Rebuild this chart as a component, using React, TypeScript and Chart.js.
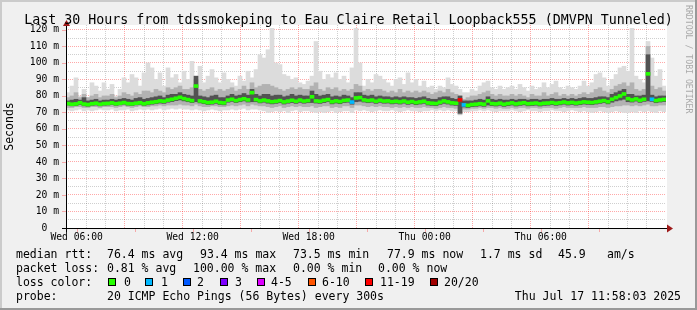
import React, { useEffect, useRef } from 'react';
import { Chart, registerables } from 'chart.js';

Chart.register(...registerables);

// ---------------- data (ms, one column = 12 minutes, starting Wed 05:58) ----------------
const median = [
  75.4, 75.0, 75.2, 75.9, 75.1, 74.8, 75.3, 75.6, 75.0, 75.4,
  75.5, 75.8, 75.3, 75.6, 76.0, 75.4, 75.2, 75.6, 75.9, 75.3,
  75.8, 76.2, 76.5, 77.0, 76.8, 77.5, 78.0, 78.6, 79.2, 78.4,
  77.8, 77.2, 86.0, 77.0, 76.5, 76.0, 76.2, 76.8, 76.0, 75.8,
  77.5, 78.0, 77.2, 77.8, 78.3, 77.6, 82.0, 77.8, 77.0, 77.5,
  77.0, 76.5, 76.8, 77.2, 76.4, 76.9, 77.4, 76.8, 77.5, 76.9,
  77.2, 79.5, 77.0, 76.8, 77.4, 77.8, 76.5, 77.0, 76.6, 77.3,
  77.5, 76.3, 78.8, 79.0, 77.6, 77.2, 77.5, 76.8, 77.4, 76.9,
  77.0, 76.5, 76.8, 76.4, 76.9, 76.2, 76.6, 76.0, 76.4, 76.8,
  75.8, 75.6, 75.4, 76.2, 77.0, 76.4, 75.8, 75.6, 77.6, 74.6,
  74.3, 74.8, 75.0, 75.3, 75.0, 77.0, 75.4, 75.2, 75.6, 75.0,
  75.4, 75.8, 75.2, 75.6, 75.9, 75.3, 75.5, 75.7, 75.2, 75.6,
  75.7, 76.0, 75.6, 75.9, 76.3, 75.8, 76.1, 75.7, 76.0, 76.4,
  76.2, 76.0, 76.4, 76.8, 77.2, 76.5, 78.0, 79.0, 80.0, 81.2,
  78.4, 77.6, 78.2, 77.4, 78.0, 93.4, 78.0, 77.2, 77.6, 77.9,
];

const lightHi = [
  82, 86, 91, 80, 84, 79, 88, 86, 83, 88,
  84, 87, 80, 84, 91, 88, 93, 91, 86, 94,
  100, 97, 90, 94, 86, 97, 91, 93, 88, 95,
  90, 101, 92, 98, 88, 92, 96, 91, 88, 94,
  90, 88, 86, 92, 89, 95, 91, 96, 105, 103,
  108, 121, 100, 99, 93, 92, 90, 91, 88, 87,
  89, 92, 113, 95, 90, 93, 91, 94, 90, 92,
  88, 97, 121, 100, 86, 90, 88, 93, 92, 90,
  88, 86, 90, 91, 87, 94, 88, 90, 86, 89,
  85, 86, 84, 86, 85, 91, 87, 86, 84, 82,
  82, 84, 83, 86, 88, 89, 85, 84, 86, 84,
  85, 86, 84, 87, 85, 83, 86, 84, 85, 88,
  85, 87, 89, 85, 84, 86, 85, 84, 86, 89,
  86, 88, 93, 94, 91, 86, 90, 93, 97, 98,
  95, 121, 92, 90, 88, 113, 103, 92, 96, 86,
];

const midHi = [
  79, 80, 82, 79, 81, 79, 80, 81, 79, 80,
  80, 81, 79, 80, 82, 81, 80, 82, 81, 83,
  83, 82, 84, 83, 82, 85, 84, 85, 86, 84,
  84, 85, 90, 84, 83, 84, 85, 83, 84, 83,
  84, 85, 83, 84, 86, 84, 88, 85, 86, 87,
  87, 86, 85, 84, 83, 84, 85, 84, 85, 84,
  84, 86, 88, 84, 83, 85, 84, 85, 83, 84,
  83, 84, 87, 86, 83, 84, 83, 84, 84, 83,
  82, 83, 82, 84, 82, 83, 82, 83, 82, 83,
  82, 81, 82, 83, 82, 84, 82, 81, 80, 78,
  79, 80, 80, 81, 82, 83, 81, 80, 81, 80,
  80, 81, 80, 81, 80, 79, 81, 80, 80, 82,
  80, 81, 82, 80, 81, 80, 81, 80, 81, 82,
  81, 82, 84, 85, 83, 82, 84, 86, 87, 88,
  86, 88, 84, 83, 84, 110, 86, 84, 85, 83,
];

const darkHi = [
  77, 77.5, 78, 77.5, 79, 77, 77.5, 78, 77, 77.5,
  77.5, 78, 77.5, 78, 78.5, 78, 77.5, 78.5, 79, 78,
  78.5, 79, 79.5, 80, 79, 80.5, 81, 81, 82, 81,
  80.5, 80, 92, 80, 79.5, 79, 80, 80.5, 79, 79,
  80, 81, 80, 80.5, 81.5, 80.5, 84, 81, 80, 81,
  81, 80, 80.5, 80.5, 79.5, 80, 81, 80, 80.5, 80,
  80, 83, 81, 80, 80.5, 81, 79.5, 80, 79.5, 80.5,
  80, 79, 82, 82, 80.5, 80, 80.5, 79.5, 80, 79.5,
  79.5, 79, 79.5, 79, 79.5, 79, 79, 78.5, 79, 79.5,
  78.5, 78, 78, 79, 79.5, 79.5, 78.5, 78, 80, 77,
  77, 77, 77.5, 78, 77.5, 79.5, 78, 77.5, 78, 77.5,
  77.5, 78, 77.5, 78, 78, 77.5, 78, 78, 77.5, 78,
  78, 78.5, 78, 78, 78.5, 78, 78.5, 78, 78.5, 79,
  78.5, 78.5, 79, 79.5, 79.5, 79, 81, 82, 83, 84,
  81, 81, 80, 80, 80.5, 105, 80.5, 79.5, 80, 80,
];

const darkLo = [
  74.5, 74, 74.2, 74.8, 74, 73.8, 74.3, 74.5, 74, 74.4,
  74.5, 74.8, 74.3, 74.6, 75, 74.4, 74.2, 74.6, 74.9, 74.3,
  74.6, 75, 75.3, 75.7, 75.5, 76.2, 76.6, 77.2, 77.6, 77,
  76.5, 76, 76.5, 75.8, 75.3, 74.8, 75, 75.5, 74.8, 74.6,
  76.2, 76.7, 76, 76.5, 77, 76.3, 76.5, 76.5, 75.8, 76.2,
  75.6, 75.2, 75.5, 75.9, 75.1, 75.6, 76, 75.5, 76.1, 75.6,
  75.9, 76, 75.7, 75.5, 76, 76.5, 75.2, 75.7, 75.3, 76,
  76.2, 75, 76.5, 76.8, 76.3, 75.9, 76.2, 75.5, 76.1, 75.6,
  75.7, 75.2, 75.5, 75.1, 75.6, 74.9, 75.3, 74.7, 75.1, 75.5,
  74.5, 74.3, 74.1, 74.9, 75.5, 75.1, 74.5, 74.3, 69.5, 73.3,
  73, 73.5, 73.7, 74, 73.7, 74.5, 74.1, 73.9, 74.3, 73.7,
  74.1, 74.5, 73.9, 74.3, 74.6, 74, 74.2, 74.4, 73.9, 74.3,
  74.4, 74.7, 74.3, 74.6, 75, 74.5, 74.8, 74.4, 74.7, 75.1,
  74.9, 74.7, 75.1, 75.5, 75.9, 75.2, 76.2, 77, 77.5, 78,
  76.5, 76.3, 76.9, 76.1, 76.7, 77, 76.7, 75.9, 76.3, 76.6,
];

const midLo = [
  73, 73, 73.5, 73.5, 73, 73, 73.5, 73.5, 73, 73.5,
  73.5, 73.5, 73, 73.5, 74, 73.5, 73, 73.5, 74, 73.5,
  73.5, 74, 74, 74.5, 74, 74.5, 74.5, 74.5, 75, 74.5,
  74.5, 74, 75, 74, 73.5, 73.5, 74, 74, 73.5, 73.5,
  74, 74.5, 74, 74.5, 75, 74, 75, 74.5, 74, 74,
  73.5, 73, 73.5, 74, 73, 73.5, 74, 73.5, 74, 73.5,
  73.5, 74, 73, 73.5, 74, 74, 73, 73.5, 73, 74,
  74, 73, 74.5, 74.5, 74, 73.5, 74, 73.5, 74, 73.5,
  73.5, 73, 73.5, 73, 73.5, 73, 73.5, 73, 73, 73.5,
  73, 73, 72.5, 73, 73.5, 73, 73, 72.5, 69, 72,
  72, 72.5, 72.5, 73, 72.5, 73, 73, 72.5, 73, 72.5,
  72.5, 73, 72.5, 73, 73, 72.5, 73, 73, 72.5, 73,
  73, 73, 72.5, 73, 73.5, 73, 73, 73, 73, 73.5,
  73, 73, 73, 73.5, 73.5, 73, 73.5, 74, 74, 74.5,
  74.5, 74, 74.5, 74, 74.5, 75, 74, 74, 74.5, 74.5,
];

const lightLo = [
  71.5, 71, 71.5, 72, 71, 71.5, 71, 71.5, 72, 71.5,
  71.5, 72, 71, 71.5, 71.5, 72, 71, 71.5, 72, 71.5,
  72, 71.5, 72, 72.5, 71.5, 72, 72.5, 72, 72.5, 72,
  72, 71.5, 72, 71.5, 71, 71.5, 72, 71.5, 71, 71.5,
  71.5, 72, 71.5, 72, 72.5, 71.5, 72, 72, 71.5, 71,
  70, 70.5, 71, 70.5, 71, 70, 71, 71.5, 70.5, 71,
  71, 70.5, 70, 70.5, 70, 70.5, 71, 70, 70.5, 71,
  71, 70, 71.5, 71, 71.5, 71, 70.5, 71, 71.5, 71,
  71, 71.5, 71, 70.5, 71, 71.5, 71, 71, 70.5, 71,
  71, 71.5, 71, 71.5, 71, 71.5, 71, 71, 68.5, 70.5,
  70.5, 71, 71, 71.5, 71, 71.5, 71, 70.5, 71, 71,
  71, 71.5, 71, 70.5, 71, 71.5, 71, 71, 70.5, 71,
  71, 71.5, 71, 71, 70.5, 71, 71.5, 71, 70.5, 71,
  70.5, 70, 70.5, 71, 70.5, 70, 70.5, 71, 70.5, 70,
  70, 70.5, 70, 71, 70.5, 71, 70.5, 70, 71, 70.5,
];

// columns with packet loss, and the loss class (index into lossLabels)
const lossCols = [71, 98, 99, 146];
const lossLevel = [1, 6, 1, 1];

const lossLabels = ['0', '1', '2', '3', '4-5', '6-10', '11-19', '20/20'];
const lossColors = ['#26ff00', '#00b8ff', '#0059ff', '#7e00ff', '#dd00ff', '#ff5500', '#ff0000', '#a10000'];

// axis: minutes since Wed 00:00
const T_START = 358;
const T_END = 2158;
const xTickMinutes = [360, 720, 1080, 1440, 1800];
const xTickLabels = ['Wed 06:00', 'Wed 12:00', 'Wed 18:00', 'Thu 00:00', 'Thu 06:00'];
const yTickValues = [0, 10, 20, 30, 40, 50, 60, 70, 80, 90, 100, 110, 120];
const yTickLabels = ['0  ', '10 m', '20 m', '30 m', '40 m', '50 m', '60 m', '70 m', '80 m', '90 m', '100 m', '110 m', '120 m'];

const TITLE = 'Last 30 Hours from tdssmokeping to Eau Claire Retail Loopback555 (DMVPN Tunneled)';
const legendRow1 = ['median rtt:', '76.4 ms avg', '93.4 ms max', '73.5 ms min', '77.9 ms now', '1.7 ms sd', '45.9', 'am/s'];
const legendRow2 = ['packet loss:', '0.81 % avg', '100.00 % max', '0.00 % min', '0.00 % now'];
const probeText = ['probe:', '20 ICMP Echo Pings (56 Bytes) every 300s'];
const dateText = 'Thu Jul 17 11:58:03 2025';

// ---------------- layout / styling ----------------
const W = 697;
const H = 310;
const MONO = '"DejaVu Sans Mono", "Liberation Mono", monospace';
const GRID_RED = 'rgba(255,0,0,0.34)';
const GRID_GRAY = 'rgba(0,0,0,0.19)';
const TICK_RED = '#f5a8a8';

const row1X = [16, 107, 200, 293, 387, 480, 558, 607];
const row2X = [16, 107, 193, 293, 378];
const boxX = [108, 145, 183, 220, 257, 308, 365, 430];
const boxLabelX = [124, 161, 197, 235, 271, 322, 380, 444];

const rrdPlugin = {
  id: 'rrdDecor',
  beforeDraw(chart: any) {
    const ctx = chart.ctx as CanvasRenderingContext2D;
    const a = chart.chartArea;
    ctx.save();
    ctx.fillStyle = '#f0f0f0';
    ctx.fillRect(0, 0, W, H);
    ctx.fillStyle = '#cbcbcb';
    ctx.fillRect(0, 0, W, 2);
    ctx.fillRect(0, 0, 2, H);
    ctx.fillStyle = '#999999';
    ctx.fillRect(0, H - 2, W, 2);
    ctx.fillRect(W - 2, 0, 2, H);
    ctx.fillStyle = '#ffffff';
    ctx.fillRect(a.left, a.top, a.right - a.left + 1, a.bottom - a.top);
    ctx.restore();
  },
  afterDraw(chart: any) {
    const ctx = chart.ctx as CanvasRenderingContext2D;
    const a = chart.chartArea;
    const xs = chart.scales.xt;
    const ys = chart.scales.y;
    ctx.save();

    // small tick marks outside the canvas
    ctx.fillStyle = TICK_RED;
    for (let v = 360; v <= 2100; v += 180) {
      const px = Math.round(xs.getPixelForValue(v));
      ctx.fillRect(px, a.bottom + 1, 1, 3);
    }
    for (const v of yTickValues) {
      const py = Math.round(ys.getPixelForValue(v));
      ctx.fillRect(a.left - 4, py, 4, 1);
    }

    // axes
    ctx.fillStyle = '#000000';
    ctx.fillRect(a.left - 4, Math.round(a.bottom), a.right - a.left + 6, 1);
    ctx.fillRect(a.left, a.top - 1, 1, a.bottom - a.top + 5);

    // arrows
    ctx.fillStyle = '#9e1a1a';
    const by = Math.round(a.bottom) + 0.5;
    ctx.beginPath();
    ctx.moveTo(a.right + 1, by - 4);
    ctx.lineTo(a.right + 7, by);
    ctx.lineTo(a.right + 1, by + 4);
    ctx.closePath();
    ctx.fill();
    const lx = a.left + 0.5;
    ctx.beginPath();
    ctx.moveTo(lx - 3.5, a.top + 1);
    ctx.lineTo(lx, a.top - 5);
    ctx.lineTo(lx + 3.5, a.top + 1);
    ctx.closePath();
    ctx.fill();

    // title
    ctx.fillStyle = '#000000';
    ctx.font = `13.3px ${MONO}`;
    ctx.textAlign = 'center';
    ctx.textBaseline = 'alphabetic';
    ctx.fillText(TITLE, W / 2, 24);

    // y axis title
    ctx.font = `11.5px ${MONO}`;
    ctx.save();
    ctx.translate(10, (a.top + a.bottom) / 2);
    ctx.rotate(-Math.PI / 2);
    ctx.textAlign = 'center';
    ctx.textBaseline = 'middle';
    ctx.fillText('Seconds', 0, 0);
    ctx.restore();

    // side watermark
    ctx.save();
    ctx.fillStyle = '#a9a9a9';
    ctx.font = `8.2px ${MONO}`;
    ctx.translate(688, 5);
    ctx.rotate(Math.PI / 2);
    ctx.textAlign = 'left';
    ctx.textBaseline = 'middle';
    ctx.fillText('RRDTOOL / TOBI OETIKER', 0, 0);
    ctx.restore();

    // legend
    ctx.fillStyle = '#000000';
    ctx.font = `11.5px ${MONO}`;
    ctx.textAlign = 'left';
    ctx.textBaseline = 'alphabetic';
    legendRow1.forEach((t, i) => ctx.fillText(t, row1X[i], 258));
    legendRow2.forEach((t, i) => ctx.fillText(t, row2X[i], 272));
    ctx.fillText('loss color:', 16, 286);
    lossLabels.forEach((t, i) => {
      ctx.fillStyle = lossColors[i];
      ctx.fillRect(boxX[i], 278, 8, 8);
      ctx.strokeStyle = '#000000';
      ctx.lineWidth = 1;
      ctx.strokeRect(boxX[i] + 0.5, 278.5, 7, 7);
      ctx.fillStyle = '#000000';
      ctx.fillText(t, boxLabelX[i], 286);
    });
    ctx.fillText(probeText[0], 16, 300);
    ctx.fillText(probeText[1], 107, 300);
    ctx.textAlign = 'right';
    ctx.fillText(dateText, 681, 300);

    ctx.restore();
  },
};

function medianColor(i: number) {
  const k = lossCols.indexOf(i);
  return lossColors[k >= 0 ? lossLevel[k] : 0];
}

function band(label: string, lo: number[], hi: number[], color: string) {
  return {
    type: 'bar' as const,
    label,
    data: hi.map((h, i) => [lo[i], h]),
    backgroundColor: color,
    borderWidth: 0,
    barPercentage: 1,
    categoryPercentage: 1,
    grouped: false,
    xAxisID: 'x',
    yAxisID: 'y',
  };
}

export default function App() {
  const ref = useRef<HTMLCanvasElement>(null);

  useEffect(() => {
    const canvas = ref.current;
    if (!canvas) return;
    const labels = median.map((_, i) => String(i));
    const chart = new Chart(canvas, {
      type: 'bar',
      data: {
        labels,
        datasets: [
          {
            ...band('median', median.map((m) => m - 0.9), median.map((m) => m + 0.9), '#26ff00'),
            backgroundColor: median.map((_, i) => medianColor(i)),
          },
          band('smoke dark', darkLo, darkHi, '#525252'),
          band('smoke mid', midLo, midHi, '#b2b2b2'),
          band('smoke light', lightLo, lightHi, '#dcdcdc'),
        ] as any,
      },
      options: {
        responsive: false,
        devicePixelRatio: 1,
        animation: false,
        layout: { padding: { top: 25, right: 31, left: 0, bottom: 0 } },
        plugins: {
          legend: { display: false },
          tooltip: { enabled: false },
          title: { display: false },
        },
        scales: {
          x: {
            type: 'category',
            display: false,
            offset: true,
            grid: { display: false },
          },
          xt: {
            type: 'linear',
            position: 'bottom',
            z: 1,
            min: T_START,
            max: T_END,
            afterBuildTicks: (s: any) => {
              const t: { value: number }[] = [];
              for (let v = 360; v <= 2100; v += 60) t.push({ value: v });
              s.ticks = t;
            },
            afterFit: (s: any) => {
              s.height = 82;
            },
            grid: {
              color: (c: any) => (c.tick && c.tick.value % 180 === 0 ? GRID_RED : GRID_GRAY),
              lineWidth: 1,
              drawTicks: false,
            },
            border: { display: false, dash: [1, 1] },
            ticks: {
              autoSkip: false,
              maxRotation: 0,
              minRotation: 0,
              padding: 4,
              color: '#000000',
              font: { family: MONO, size: 9.7 },
              callback: (v: any) => {
                const k = xTickMinutes.indexOf(Number(v));
                return k >= 0 ? xTickLabels[k] : '';
              },
            },
          },
          y: {
            type: 'linear',
            position: 'left',
            z: 1,
            min: 0,
            max: 123,
            afterBuildTicks: (s: any) => {
              const t: { value: number }[] = [];
              for (let v = 0; v <= 120; v += 5) t.push({ value: v });
              s.ticks = t;
            },
            afterFit: (s: any) => {
              s.width = 66;
            },
            grid: {
              color: (c: any) => (c.tick && c.tick.value % 10 === 0 ? GRID_RED : GRID_GRAY),
              lineWidth: 1,
              drawTicks: false,
            },
            border: { display: false, dash: [1, 1] },
            ticks: {
              autoSkip: false,
              padding: 7,
              color: '#000000',
              font: { family: MONO, size: 9.7 },
              callback: (v: any) => {
                const k = yTickValues.indexOf(Number(v));
                return k >= 0 ? yTickLabels[k] : '';
              },
            },
          },
        },
      } as any,
      plugins: [rrdPlugin],
    });
    return () => chart.destroy();
  }, []);

  return (
    <div style={{ position: 'absolute', left: 0, top: 0, width: W, height: H }}>
      <canvas ref={ref} width={W} height={H} style={{ display: 'block', width: W, height: H }} />
    </div>
  );
}
